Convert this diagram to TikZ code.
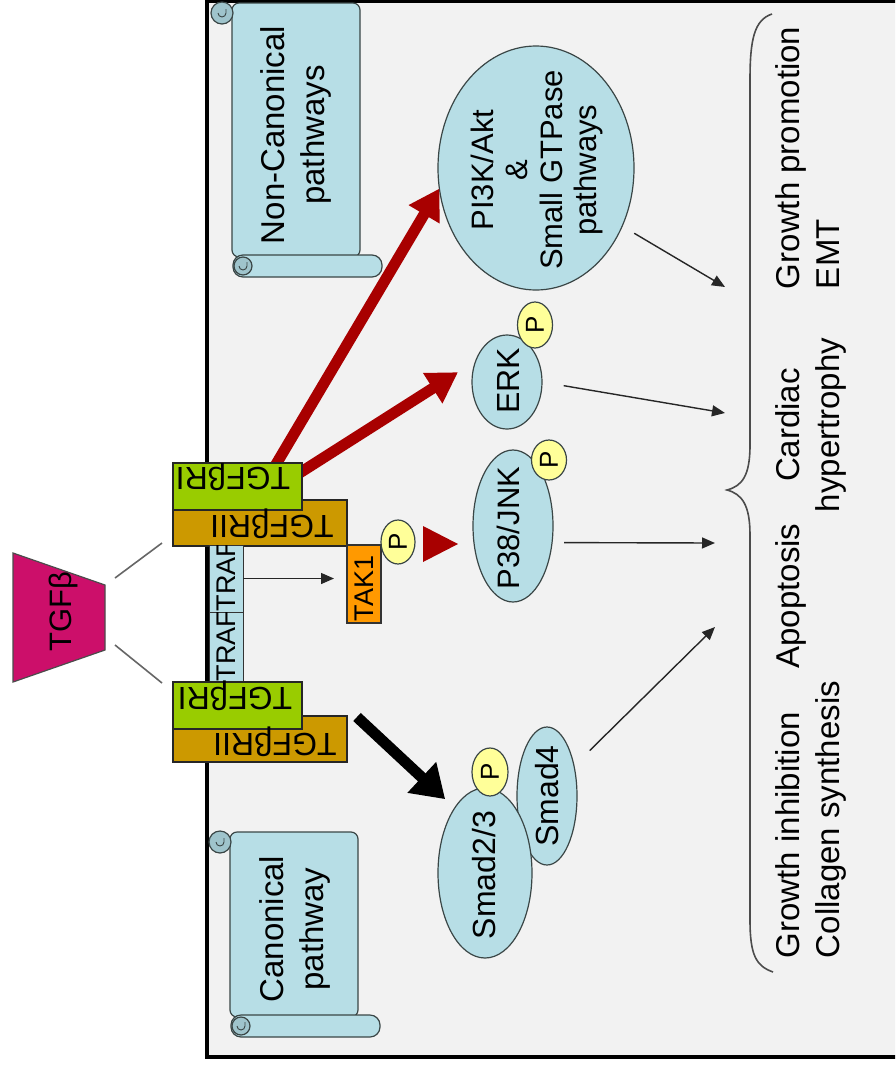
\documentclass[tikz,border=0pt]{standalone}
\usepackage{fontspec}
\setmainfont{Liberation Sans}
\usetikzlibrary{arrows.meta,shapes.geometric,calc}
\definecolor{bgfill}{HTML}{F2F2F2}
\definecolor{cellblue}{HTML}{B7DEE6}
\definecolor{curlblue}{HTML}{9FC4CC}
\definecolor{recgreen}{HTML}{99CC00}
\definecolor{recorange}{HTML}{CC9900}
\definecolor{takorange}{HTML}{FF9900}
\definecolor{pyellow}{HTML}{FFFF99}
\definecolor{tgfpink}{HTML}{CC0F6A}
\definecolor{darkred}{HTML}{A80000}
\definecolor{edge}{HTML}{3A4646}
\tikzset{
  pics/scroll/.style={code={
    \path[draw=edge, fill=cellblue, line width=1.2pt, rounded corners=7pt]
      (10,0) -- (138,0) -- (138,#1) -- (10,#1) -- cycle;
    \path[draw=edge, fill=curlblue, line width=1.2pt] (0,10) circle[radius=11pt];
    \draw[edge, line width=0.9pt] (-4,10) arc[start angle=180, end angle=360, radius=4pt] -- ++(0,-4);
    \path[draw=edge, fill=cellblue, line width=1.2pt, rounded corners=10pt]
      (11,#1-2) rectangle (160,#1+20);
    \path[draw=edge, fill=curlblue, line width=1.2pt] (21,#1+9) circle[radius=9pt];
    \draw[edge, line width=0.9pt] (17,#1+9) arc[start angle=180, end angle=360, radius=4pt] -- ++(0,-4);
  }}
}
\begin{document}
\begin{tikzpicture}[x=1pt,y=-1pt,
  every node/.style={inner sep=0pt, outer sep=0pt},
  ell/.style={ellipse, draw=edge, fill=cellblue, line width=1.2pt},
  pcirc/.style={ellipse, draw=edge, fill=pyellow, line width=1.2pt},
  boxI/.style={rectangle, draw=black!85, fill=recgreen, line width=1.2pt, anchor=north west, minimum width=129pt, minimum height=47pt},
  boxII/.style={rectangle, draw=black!85, fill=recorange, line width=1.2pt, anchor=north west, minimum width=174pt, minimum height=46pt},
  trafbox/.style={rectangle, draw=black!80, fill=cellblue, line width=1pt, anchor=north west, minimum width=34pt, minimum height=67pt},
  vtext/.style={rotate=90, font=\fontsize{33}{40}\selectfont},
  rtext/.style={rotate=180, anchor=base, font=\fontsize{32}{38}\selectfont},
  redarrow/.style={draw=darkred, line width=11pt, -{Triangle[length=30pt,width=34pt]}},
  blackarrow/.style={draw=black, line width=11pt, -{Triangle[length=32pt,width=40pt]}},
  thinarrow/.style={draw=black!85, line width=1.4pt, -{Triangle[length=13pt,width=11pt]}},
  greyline/.style={draw=black!60, line width=1.6pt},
  bracestyle/.style={draw=black!70, line width=1.6pt}
]
\useasboundingbox (0,0) rectangle (895,1068);
\clip (0,0) rectangle (895,1068);
\fill[white] (0,0) rectangle (895,1068);
% frame
\draw[line width=4.5pt, fill=bgfill] (207,1) rectangle (910,1057);
% scrolls
\pic (ncs) at (222,3) {scroll=254};
\pic (cs) at (220,832) {scroll=185};
\node[vtext, align=center] (nctext) at (296,135) {Non-Canonical\\pathways};
\node[vtext, align=center] (ctext) at (295,929) {Canonical\\pathway};
% TGF-beta ligand
\coordinate (la1) at (115,578); \coordinate (la2) at (162,543);
\coordinate (lb1) at (115,645); \coordinate (lb2) at (162,683);
\draw[greyline] (la1) -- (la2);
\draw[greyline] (lb1) -- (lb2);
\path[draw=black!70, fill=tgfpink, line width=1.2pt] (13,553) -- (105,585) -- (105,650) -- (13,682) -- cycle;
\begin{scope}
\clip (13,553) -- (105,585) -- (105,650) -- (13,682) -- cycle;
\node[rotate=90, font=\fontsize{31}{36}\selectfont] (tgfb) at (63,612) {TGFβ};
\end{scope}
% target ellipses for the red arrows
\node[ell, minimum width=196pt, minimum height=244pt] (pi3k) at (536,168) {};
\node[ell, minimum width=70pt, minimum height=94pt] (erk) at (507,382) {};
% red arrows (start under the upper receptor)
\coordinate (ra1) at (275,466);
\coordinate (ra2) at (298,474);
\draw[redarrow] (ra1) -- (pi3k.192);
\draw[redarrow, shorten >=21pt] (ra2) -- (erk.146);
% upper receptor
\node[boxII] (r1b) at (173,500) {};
\node[boxI] (r1a) at (173,463) {};
\begin{scope}
\clip (173,463) rectangle (302,510);
\node[rtext] (r1at) at (233,467) {TGFβRI};
\end{scope}
\node[rtext] (r1bt) at (272,515) {TGFβRII};
% TRAF6
\node[trafbox] (traf1) at (209,545) {};
\node[trafbox, minimum height=70pt] (traf2) at (209,612) {};
\begin{scope}
\clip (209,545) rectangle (243,612);
\node[rotate=90, anchor=west, font=\fontsize{27}{30}\selectfont] (traf1t) at (226,611) {TRAF6};
\end{scope}
\begin{scope}
\clip (209,612) rectangle (243,682);
\node[rotate=90, anchor=west, font=\fontsize{27}{30}\selectfont] (traf2t) at (226,681) {TRAF6};
\end{scope}
% lower receptor
\node[boxII] (r2b) at (173,716) {};
\node[boxI] (r2a) at (173,682) {};
\node[rtext] (r2at) at (235,687) {TGFβRI};
\node[rtext] (r2bt) at (275,733) {TGFβRII};
% TAK1
\node[rectangle, draw=black!80, fill=takorange, line width=1.2pt, anchor=north west, minimum width=34pt, minimum height=78pt] (tak1) at (347,545) {};
\node[rotate=90, anchor=west, font=\fontsize{27}{30}\selectfont] (tak1t) at (364,621) {TAK1};
\node[pcirc, minimum width=34pt, minimum height=44pt] (ptak) at (398,542) {\rotatebox{90}{\fontsize{26}{30}\selectfont P}};
\draw[thinarrow, shorten >=13pt] (traf1.east) -- (traf1.east -| tak1.west);
% red triangle
\fill[darkred] (423,526) -- (458,544) -- (423,562) -- cycle;
% kinases
\node[ell, minimum width=80pt, minimum height=152pt] (p38) at (513,526) {};
\node[vtext, font=\fontsize{31}{36}\selectfont] (p38t) at (508,528) {P38/JNK};
\node[pcirc, minimum width=35pt, minimum height=40pt] (pp38) at (549,460) {\rotatebox{90}{\fontsize{26}{30}\selectfont P}};
\node[vtext, font=\fontsize{32}{36}\selectfont] (erkt) at (508,381) {ERK};
\node[pcirc, minimum width=35pt, minimum height=46pt] (perk) at (535,325) {\rotatebox{90}{\fontsize{26}{30}\selectfont P}};
\node[vtext, align=center, font=\fontsize{31}{34.5}\selectfont] (pi3kt) at (537,170) {PI3K/Akt\\\&\\Small GTPase\\pathways};
% Smads
\node[ell, minimum width=60pt, minimum height=138pt] (smad4) at (547,796) {};
\node[vtext, font=\fontsize{32}{36}\selectfont] (smad4t) at (547,796) {Smad4};
\node[ell, minimum width=94pt, minimum height=170pt] (smad23) at (485,873) {};
\node[vtext, font=\fontsize{32}{36}\selectfont] (smad23t) at (484,875) {Smad2/3};
\node[pcirc, minimum width=36pt, minimum height=48pt] (psmad) at (490,772) {\rotatebox{90}{\fontsize{26}{30}\selectfont P}};
\coordinate (ba1) at ($(r2b.north east)+(10,1)$);
\draw[blackarrow, shorten >=13pt] (ba1) -- (smad23.115);
% outputs
\coordinate (o1) at (725,287);
\coordinate (o2) at (725,413);
\coordinate (o3) at (715,543);
\coordinate (o4) at (715,627);
\draw[thinarrow, shorten <=14pt] (pi3k.-34) -- (o1);
\draw[thinarrow, shorten <=22pt] (erk.east) -- (o2);
\draw[thinarrow, shorten <=12pt] (p38.-23.6) -- (o3);
\draw[thinarrow, shorten <=22pt] (smad4.48) -- (o4);
% brace
\draw[bracestyle] (772,14) .. controls (754,20) and (750,40) .. (750,80) -- (750,445)
  .. controls (750,476) and (742,486) .. (727,490)
  .. controls (742,494) and (750,505) .. (750,535) -- (750,920)
  .. controls (750,955) and (756,966) .. (773,972);
% outcome texts
\node[vtext, align=left, anchor=north west] (gp) at (776,289) {Growth promotion\\EMT};
\node[vtext, align=center, anchor=north] (ch) at (776,425) {Cardiac\\hypertrophy};
\node[vtext, anchor=north] (ap) at (776,596) {Apoptosis};
\node[vtext, align=left, anchor=north west] (gi) at (776,958) {Growth inhibition\\Collagen synthesis};
\end{tikzpicture}
\end{document}
